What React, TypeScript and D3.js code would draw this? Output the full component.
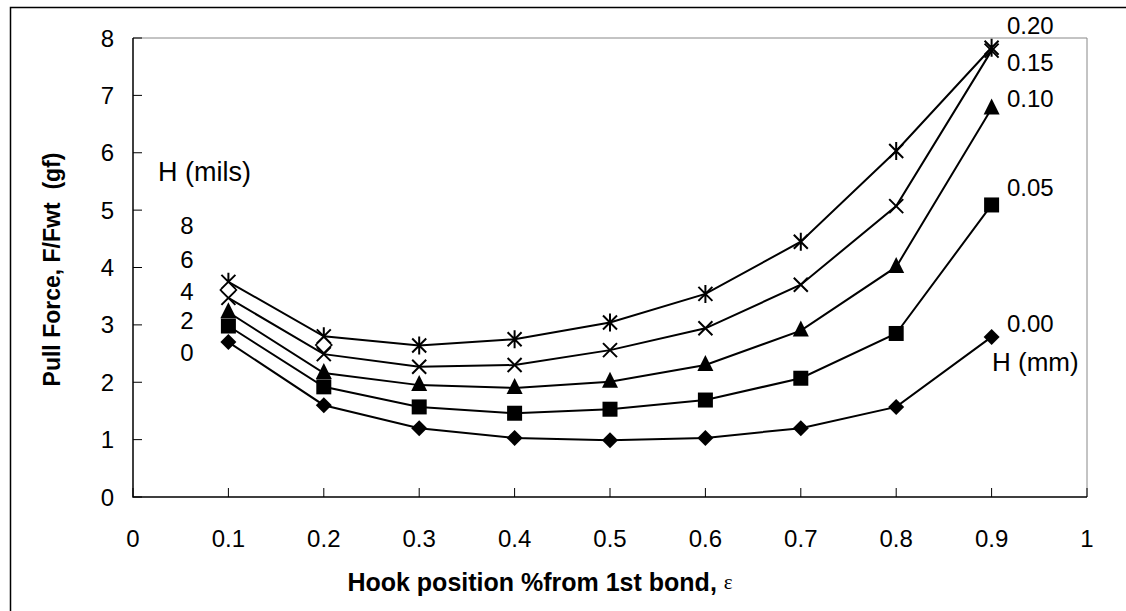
import * as d3 from "d3";

const hookPos = [0.1, 0.2, 0.3, 0.4, 0.5, 0.6, 0.7, 0.8, 0.9];
const h020 = [3.75, 2.8, 2.64, 2.75, 3.04, 3.54, 4.45, 6.03, 7.83];
const h015 = [3.47, 2.49, 2.27, 2.3, 2.56, 2.94, 3.7, 5.07, 7.78];
const h010 = [3.22, 2.16, 1.95, 1.9, 2.01, 2.3, 2.9, 4.01, 6.77];
const h005 = [2.98, 1.92, 1.57, 1.46, 1.53, 1.69, 2.07, 2.85, 5.09];
const h000 = [2.7, 1.6, 1.2, 1.03, 0.99, 1.03, 1.2, 1.57, 2.79];
// open diamonds, only at the first two positions
const extraPos = [0.1, 0.2];
const extraVals = [3.61, 2.65];

const xTicks = [0, 0.1, 0.2, 0.3, 0.4, 0.5, 0.6, 0.7, 0.8, 0.9, 1];
const yTicks = [0, 1, 2, 3, 4, 5, 6, 7, 8];
const milsLabels = ["8", "6", "4", "2", "0"];
const mmLabels = ["0.20", "0.15", "0.10", "0.05", "0.00"];

const W = 1126;
const H = 611;
const PLOT = { left: 133, right: 1087, top: 38, bottom: 497 };
const FONT = "'Liberation Sans', Arial, sans-serif";

function Marker({ kind, x, y }: { kind: string; x: number; y: number }) {
  const s = 8;
  if (kind === "diamond")
    return <path d={`M${x},${y - s}L${x + s},${y}L${x},${y + s}L${x - s},${y}Z`} fill="#000" />;
  if (kind === "open")
    return <path d={`M${x},${y - s}L${x + s},${y}L${x},${y + s}L${x - s},${y}Z`} fill="#fff" stroke="#000" strokeWidth={1.6} />;
  if (kind === "square")
    return <rect x={x - 7.5} y={y - 7.5} width={15} height={15} fill="#000" />;
  if (kind === "triangle")
    return <path d={`M${x},${y - 10}L${x + 8},${y + 6}L${x - 8},${y + 6}Z`} fill="#000" />;
  const c = 7;
  const xPath = `M${x - c},${y - c}L${x + c},${y + c}M${x - c},${y + c}L${x + c},${y - c}`;
  if (kind === "x") return <path d={xPath} stroke="#000" strokeWidth={2} fill="none" />;
  // star
  return <path d={`${xPath}M${x},${y - 9}L${x},${y + 9}`} stroke="#000" strokeWidth={2} fill="none" />;
}

export default function App() {
  const x = d3.scaleLinear().domain([0, 1]).range([PLOT.left, PLOT.right]);
  const y = d3.scaleLinear().domain([0, 8]).range([PLOT.bottom, PLOT.top]);

  const series = [
    { vals: h000, kind: "diamond" },
    { vals: h005, kind: "square" },
    { vals: h010, kind: "triangle" },
    { vals: h015, kind: "x" },
    { vals: h020, kind: "star" },
  ];

  const line = d3
    .line<number>()
    .x((_, i) => x(hookPos[i]))
    .y((d) => y(d));

  const milsY = [225, 259, 291, 320, 352];
  const mmY = [25, 62, 98, 187, 323];

  return (
    <svg width={W} height={H} style={{ position: "absolute", left: 0, top: 0 }} fontFamily={FONT}>
      <rect width={W} height={H} fill="#fff" />
      {/* outer chart frame */}
      <path d={`M10.5,${H}L10.5,7.5L${W},7.5`} stroke="#000" strokeWidth={1.5} fill="none" />
      {/* plot box */}
      <path
        d={`M${PLOT.left},${PLOT.top}L${PLOT.right},${PLOT.top}L${PLOT.right},${PLOT.bottom}`}
        stroke="#888"
        strokeWidth={1}
        fill="none"
      />
      <path
        d={`M${PLOT.left},${PLOT.top}L${PLOT.left},${PLOT.bottom}L${PLOT.right},${PLOT.bottom}`}
        stroke="#000"
        strokeWidth={1.5}
        fill="none"
      />
      {yTicks.map((t) => (
        <g key={"y" + t}>
          <line x1={PLOT.left} x2={PLOT.left + 9} y1={y(t)} y2={y(t)} stroke="#000" strokeWidth={1} />
          <text x={114} y={y(t)} textAnchor="end" dominantBaseline="central" fontSize={24}>
            {t}
          </text>
        </g>
      ))}
      {xTicks.map((t) => (
        <g key={"x" + t}>
          <line x1={x(t)} x2={x(t)} y1={PLOT.bottom} y2={PLOT.bottom - 9} stroke="#000" strokeWidth={1} />
          <text x={x(t)} y={538} textAnchor="middle" dominantBaseline="central" fontSize={24}>
            {t}
          </text>
        </g>
      ))}

      {series.map((s, si) => (
        <g key={si}>
          <path d={line(s.vals) ?? ""} fill="none" stroke="#000" strokeWidth={2} />
          {s.vals.map((v, i) => (
            <Marker key={i} kind={s.kind} x={x(hookPos[i])} y={y(v)} />
          ))}
        </g>
      ))}
      {extraVals.map((v, i) => (
        <Marker key={"e" + i} kind="open" x={x(extraPos[i])} y={y(v)} />
      ))}

      {/* axis titles */}
      <text x={540} y={582} textAnchor="middle" dominantBaseline="central" fontSize={25} fontWeight="bold">
        Hook position %from 1st bond,{" "}
        <tspan fontFamily="'Liberation Serif', serif" fontWeight="normal" fontSize={21}>
          ε
        </tspan>
      </text>
      <text
        transform={`translate(52,${(PLOT.top + PLOT.bottom) / 2 + 2}) rotate(-90)`}
        textAnchor="middle"
        dominantBaseline="central"
        fontSize={23}
        fontWeight="bold"
        style={{ whiteSpace: "pre" }}
      >
        {"Pull Force, F/Fwt  (gf)"}
      </text>

      {/* H (mils) annotation */}
      <text x={158} y={172} dominantBaseline="central" fontSize={27}>
        H (mils)
      </text>
      {milsLabels.map((l, i) => (
        <text key={l} x={187} y={milsY[i]} textAnchor="middle" dominantBaseline="central" fontSize={24}>
          {l}
        </text>
      ))}

      {/* H (mm) annotation */}
      {mmLabels.map((l, i) => (
        <text key={l} x={1007} y={mmY[i]} dominantBaseline="central" fontSize={24}>
          {l}
        </text>
      ))}
      <text x={992} y={362} dominantBaseline="central" fontSize={26}>
        H (mm)
      </text>
    </svg>
  );
}
